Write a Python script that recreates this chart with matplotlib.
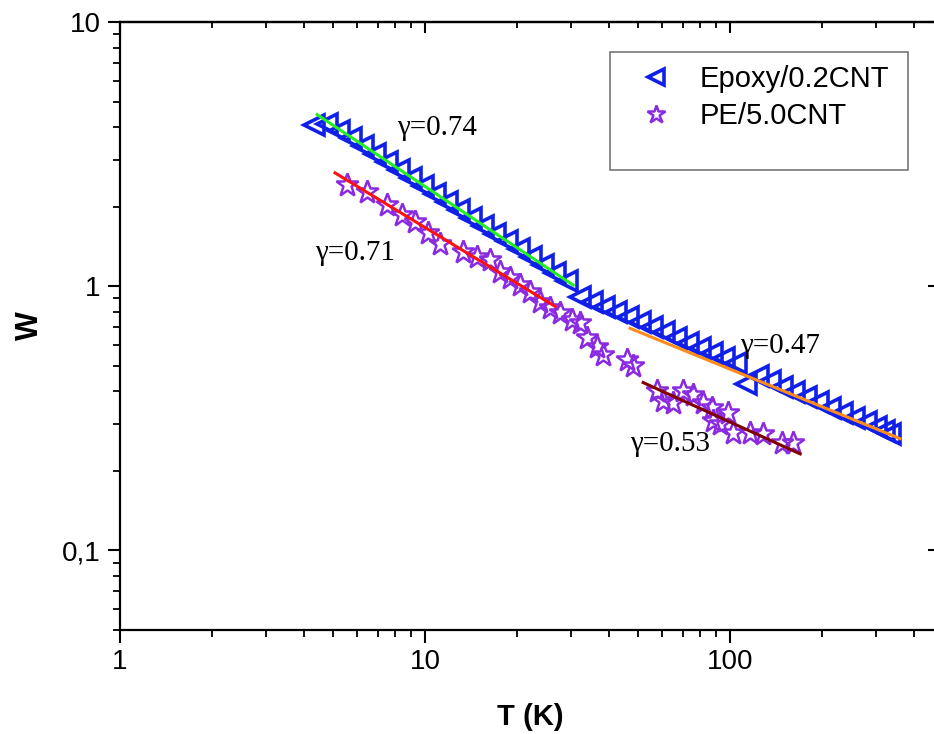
import numpy as np
import matplotlib
matplotlib.use("Agg")
import matplotlib.pyplot as plt
from matplotlib.ticker import LogLocator, FixedLocator, FuncFormatter, NullFormatter
from matplotlib.patches import Rectangle

# data
epoxy_T = [4.33, 4.77, 5.22, 5.72, 6.26, 6.86, 7.51, 8.22, 9.00, 9.85,
           10.78, 11.81, 12.93, 14.15, 15.49, 16.96, 18.57, 20.33, 22.26, 24.37,
           26.68, 29.22, 32.23, 35.28, 38.63, 42.29, 46.31, 50.70, 55.51, 60.77,
           66.53, 72.84, 79.73, 87.30, 95.56, 104.6, 112.9, 123.5, 135.2, 148.1,
           162.1, 177.5, 194.3, 212.8, 232.9, 255.0, 279.2, 301.1, 319.8, 334.6]
epoxy_W = [4.08, 4.12, 3.875, 3.645, 3.40, 3.17, 2.955, 2.755, 2.57, 2.40,
           2.235, 2.084, 1.943, 1.812, 1.689, 1.575, 1.482, 1.382, 1.288, 1.201,
           1.120, 1.045, 0.908, 0.870, 0.833, 0.797, 0.763, 0.730, 0.699, 0.669,
           0.635, 0.608, 0.582, 0.557, 0.533, 0.510, 0.428, 0.459, 0.436, 0.417,
           0.399, 0.382, 0.366, 0.347, 0.332, 0.318, 0.305, 0.292, 0.282, 0.277]

pe_T = [5.55, 6.45, 7.51, 8.41, 9.27, 10.23, 11.20, 13.32, 14.81, 16.33,
        17.62, 19.00, 20.49, 22.10, 23.82, 25.70, 27.71, 30.34, 32.23, 33.97,
        36.64, 38.34, 45.96, 48.09, 57.65, 60.30, 65.04, 70.15, 75.62, 81.55,
        87.30, 87.95, 92.72, 98.49, 102.3, 116.3, 128.3, 148.1, 160.9]
pe_W = [2.417, 2.274, 2.029, 1.860, 1.750, 1.589, 1.443, 1.346, 1.288, 1.255,
        1.130, 1.072, 1.009, 0.949, 0.870, 0.825, 0.790, 0.743, 0.724, 0.635,
        0.587, 0.547, 0.524, 0.501, 0.403, 0.369, 0.360, 0.403, 0.386, 0.363,
        0.347, 0.310, 0.302, 0.330, 0.279, 0.279, 0.277, 0.254, 0.254]

# fitted power-law segments (end points)
fit_green_T = [4.43, 30.6]
fit_green_W = [4.46, 1.01]
fit_red_T = [5.07, 26.7]
fit_red_W = [2.685, 0.839]
fit_orange_T = [47.0, 361.0]
fit_orange_W = [0.693, 0.265]
fit_maroon_T = [51.9, 169.8]
fit_maroon_W = [0.432, 0.232]

tick_font = ['Liberation Sans Narrow', 'Liberation Sans', 'DejaVu Sans']
serif_font = ['Liberation Serif', 'DejaVu Serif']

fig = plt.figure(figsize=(9.34, 7.34), dpi=100)
ax = fig.add_axes([120 / 934, 1 - 630 / 734, 820 / 934, 608 / 734])

ax.plot(epoxy_T, epoxy_W, ls='none', marker='<', ms=14, mfc='none',
        mec='#1020e8', mew=2.6, label='Epoxy/0.2CNT', zorder=2)
ax.plot(pe_T, pe_W, ls='none', marker='*', ms=17, mfc='none',
        mec='#8a2be2', mew=1.8, label='PE/5.0CNT', zorder=2)

ax.plot(fit_green_T, fit_green_W, color='#22ee22', lw=2.2, zorder=3)
ax.plot(fit_red_T, fit_red_W, color='#ff1010', lw=2.2, zorder=3)
ax.plot(fit_orange_T, fit_orange_W, color='#ff8c1a', lw=2.2, zorder=3)
ax.plot(fit_maroon_T, fit_maroon_W, color='#800000', lw=2.2, zorder=3)

ax.set_xscale('log')
ax.set_yscale('log')
ax.set_xlim(1, 488)
ax.set_ylim(0.05, 10)

ax.xaxis.set_major_locator(FixedLocator([1, 10, 100]))
ax.yaxis.set_major_locator(FixedLocator([0.1, 1, 10]))
ax.xaxis.set_minor_locator(LogLocator(base=10, subs=np.arange(2, 10), numticks=20))
ax.yaxis.set_minor_locator(LogLocator(base=10, subs=np.arange(2, 10), numticks=20))
ax.xaxis.set_minor_formatter(NullFormatter())
ax.yaxis.set_minor_formatter(NullFormatter())
fmt = FuncFormatter(lambda v, p: ('%g' % v).replace('.', ','))
ax.xaxis.set_major_formatter(fmt)
ax.yaxis.set_major_formatter(fmt)

ax.tick_params(which='major', direction='out', length=9, width=1.5, labelsize=20, pad=5)
ax.tick_params(which='minor', direction='out', length=5, width=1.3)
for lab in ax.get_xticklabels() + ax.get_yticklabels():
    lab.set_family(tick_font)
for s in ax.spines.values():
    s.set_linewidth(1.6)

# top and right axes with inward ticks
top = ax.secondary_xaxis('top')
top.set_xscale('log')
top.xaxis.set_major_locator(FixedLocator([1, 10, 100]))
top.xaxis.set_minor_locator(LogLocator(base=10, subs=np.arange(2, 10), numticks=20))
top.tick_params(which='major', direction='in', length=8, width=1.5, labeltop=False)
top.tick_params(which='minor', direction='in', length=4.5, width=1.3)
top.spines['top'].set_linewidth(1.6)

right = ax.secondary_yaxis('right')
right.set_yscale('log')
right.yaxis.set_major_locator(FixedLocator([0.1, 1, 10]))
right.yaxis.set_minor_locator(LogLocator(base=10, subs=np.arange(2, 10), numticks=20))
right.tick_params(which='major', direction='in', length=9, width=1.5, labelright=False)
right.tick_params(which='minor', direction='in', length=4.5, width=1.3)

ax.set_xlabel('T (K)', fontsize=21, fontweight='bold', family=tick_font, labelpad=20)
ax.set_ylabel('W', fontsize=22, fontweight='bold', family=tick_font, labelpad=12)

ax.text(10.95, 3.98, 'γ=0.74', fontsize=21, family=serif_font, ha='center', va='center')
ax.text(5.90, 1.334, 'γ=0.71', fontsize=21, family=serif_font, ha='center', va='center')
ax.text(145.9, 0.592, 'γ=0.47', fontsize=21, family=serif_font, ha='center', va='center')
ax.text(63.6, 0.2536, 'γ=0.53', fontsize=21, family=serif_font, ha='center', va='center')

ax.add_patch(Rectangle((0.5976, 0.7566), 0.3634, 0.1941, transform=ax.transAxes,
                       fill=False, ec='#777777', lw=1.2, zorder=4))
leg = ax.legend(loc='upper left', bbox_to_anchor=(0.638, 0.929), frameon=False,
                handlelength=0.9, handletextpad=1.05, labelspacing=0.3,
                borderpad=0, borderaxespad=0, markerscale=0.8,
                prop={'family': ['Liberation Sans', 'DejaVu Sans'], 'size': 21})

fig.savefig('out.png', dpi=100)
